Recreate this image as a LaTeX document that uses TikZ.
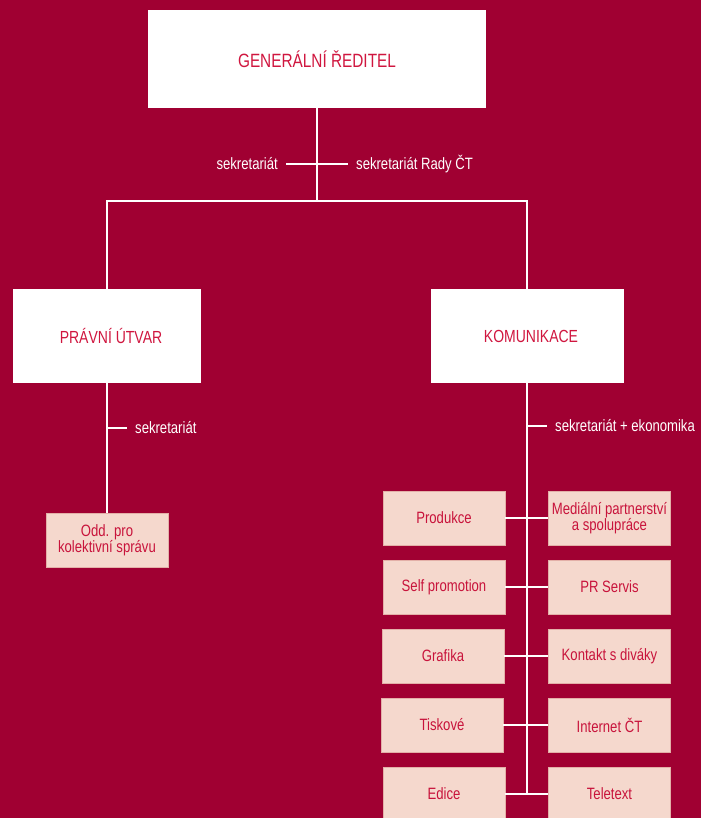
\documentclass[tikz,border=0pt]{standalone}
\usepackage{fontspec}
\setmainfont{Liberation Sans}[FakeStretch=0.8]
\definecolor{ctred}{HTML}{A00032}
\definecolor{headtext}{HTML}{D0163F}
\definecolor{pinkfill}{HTML}{F5D8CD}
\definecolor{pinkline}{HTML}{E3B0A8}
\definecolor{subtext}{HTML}{C8133B}
\tikzset{
  head/.style={fill=white, text=headtext, inner sep=0pt},
  sub/.style={fill=pinkfill, draw=pinkline, line width=0.8bp, text=subtext, inner sep=0pt,
    minimum width=122bp, minimum height=54bp, align=center,
    font=\fontsize{16.4bp}{16bp}\selectfont},
  lbl/.style={text=white, inner xsep=8bp, inner ysep=0pt, font=\fontsize{16.4bp}{16.4bp}\selectfont},
  wire/.style={draw=white, line width=1.6bp}
}
\begin{document}
\begin{tikzpicture}[x=1bp, y=-1bp]

\fill [ctred] (0,0) rectangle (701,818);
\useasboundingbox (0,0) rectangle (701,818);
\clip (0,0) rectangle (701,818);

\node [head, minimum width=338bp, minimum height=98bp, font=\fontsize{19.2bp}{19.2bp}\selectfont] (gr) at (317,59) {\raisebox{-3bp}{GENERÁLNÍ ŘEDITEL}};
\node [head, minimum width=188bp, minimum height=94bp, font=\fontsize{17.5bp}{17.5bp}\selectfont] (pu) at (107,336) {\hspace*{8bp}PRÁVNÍ ÚTVAR};
\node [head, minimum width=193bp, minimum height=94bp, font=\fontsize{17.5bp}{17.5bp}\selectfont] (kom) at (527,336) {\hspace*{8bp}KOMUNIKACE};

\node [lbl, anchor=east] (s1) at (286,164) {sekretariát};
\node [lbl, anchor=west] (s2) at (348,164) {sekretariát Rady ČT};
\node [lbl, anchor=west] (s3) at (127,428) {sekretariát};
\node [lbl, anchor=west] (s4) at (547,426) {sekretariát + ekonomika};

\coordinate (bus) at (317,201);

\node [sub] (odd) at (107,540) {Odd. pro\\kolektivní správu};

\node [sub] (prod) at (444,518) {Produkce};
\node [sub] (med) at (609.5,518) {Mediální partnerství\\a spolupráce};
\node [sub] (self) at (444,587) {Self promotion};
\node [sub] (pr) at (609.5,587) {PR Servis};
\node [sub] (graf) at (443,656) {Grafika};
\node [sub] (kont) at (609.5,656) {Kontakt s diváky};
\node [sub] (tisk) at (442,725) {Tiskové};
\node [sub] (inet) at (609.5,725) {Internet ČT};
\node [sub] (edi) at (444,794) {Edice};
\node [sub] (tel) at (609.5,794) {Teletext};

% lines
\draw [wire] (gr.south) -- (bus);
\draw [wire] (s1.east) -- (s2.west);
\draw [wire] (pu.north) |- (bus) -| (kom.north);
\draw [wire] (pu.south) -- (odd.north);
\draw [wire] (pu.south |- s3.west) -- (s3.west);
\draw [wire] (kom.south) -- (kom.south |- edi.east);
\draw [wire] (kom.south |- s4.west) -- (s4.west);
\draw [wire] (prod.east) -- (med.west);
\draw [wire] (self.east) -- (pr.west);
\draw [wire] (graf.east) -- (kont.west);
\draw [wire] (tisk.east) -- (inet.west);
\draw [wire] (edi.east) -- (tel.west);
\end{tikzpicture}
\end{document}
